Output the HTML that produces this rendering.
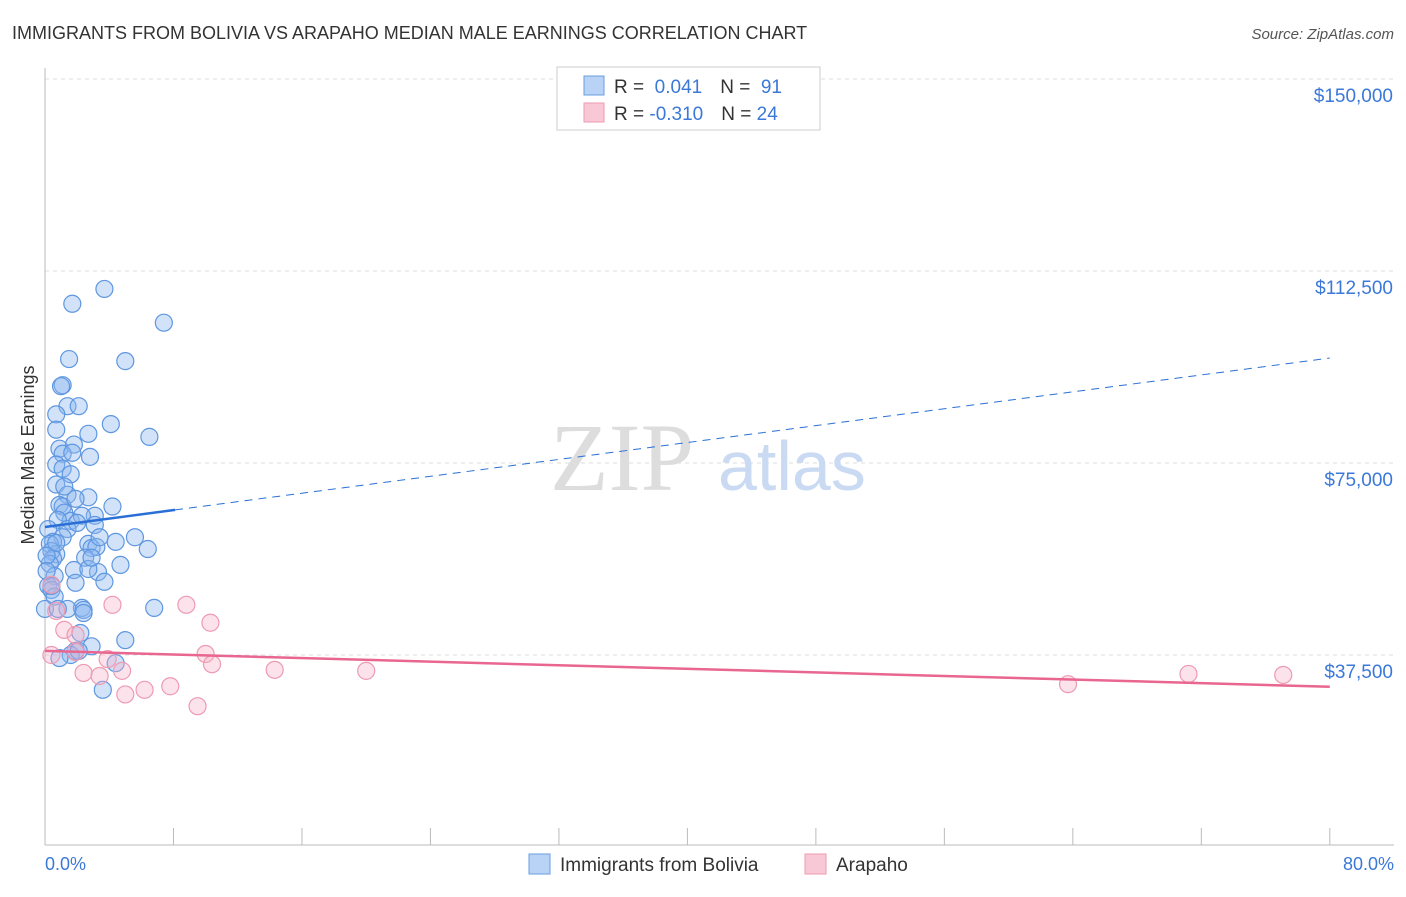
<!DOCTYPE html>
<html><head><meta charset="utf-8"><style>
body{margin:0;background:#fff;font-family:"Liberation Sans",sans-serif;}
</style></head><body>
<svg width="1406" height="892" xmlns="http://www.w3.org/2000/svg" font-family="Liberation Sans, sans-serif">
<text x="12" y="39" font-size="18" fill="#333">IMMIGRANTS FROM BOLIVIA VS ARAPAHO MEDIAN MALE EARNINGS CORRELATION CHART</text>
<text x="1394" y="39" font-size="15" fill="#555" font-style="italic" text-anchor="end">Source: ZipAtlas.com</text>
<g id="grid"></g>
<line x1="45" y1="68" x2="45" y2="845" stroke="#bbb"/>
<line x1="45" y1="845" x2="1394" y2="845" stroke="#bbb"/>
<g id="xticks"></g>
<text x="550" y="490" font-size="96" fill="#ddd" font-family="Liberation Serif, serif">ZIP</text>
<text x="718" y="490" font-size="70" fill="#c9daf2">atlas</text>
<text x="34" y="455" font-size="18" fill="#333" transform="rotate(-90 34 455)" text-anchor="middle">Median Male Earnings</text>
<text x="45" y="870" font-size="18" fill="#3b78d8">0.0%</text>
<text x="1394" y="870" font-size="18" fill="#3b78d8" text-anchor="end">80.0%</text>
<g id="pts"></g>
<g id="trend"></g>
<g>
<rect x="557" y="67" width="263" height="63" fill="#fff" stroke="#ccc"/>
<rect x="584" y="76" width="20" height="19" fill="#b8d3f6" stroke="#6a9de0"/>
<rect x="584" y="103" width="20" height="19" fill="#f9c8d6" stroke="#ee9ab3"/>
<text x="614" y="93" font-size="19" fill="#333">R = <tspan fill="#3b78d8">&#160;0.041</tspan><tspan dx="18">N = </tspan><tspan fill="#3b78d8">&#160;91</tspan></text>
<text x="614" y="120" font-size="19" fill="#333">R = <tspan fill="#3b78d8">-0.310</tspan><tspan dx="18">N = </tspan><tspan fill="#3b78d8">24</tspan></text>
</g>
<g>
<rect x="529" y="854" width="21" height="20" fill="#b8d3f6" stroke="#6a9de0"/>
<text x="560" y="871" font-size="19" fill="#333">Immigrants from Bolivia</text>
<rect x="805" y="854" width="21" height="20" fill="#f9c8d6" stroke="#ee9ab3"/>
<text x="836" y="871" font-size="19" fill="#333">Arapaho</text>
</g>
</svg>
<script>
const yTicks=[37500,75000,112500,150000];
const yTickLabels=["$37,500","$75,000","$112,500","$150,000"];
const xTicks=[0,8,16,24,32,40,48,56,64,72,80];
const blueX=[3.7,1.7,7.4,1.5,5,1.1,1,1.4,2.1,4.1,0.7,6.5,2.7,0.7,1.8,0.9,1.1,2.8,1.7,0.7,1.1,1.6,0.7,2.7,1.4,4.2,0.9,1.1,1.2,3.1,1.6,0.8,2.3,3.1,0.2,1.4,2,1.1,0.5,5.6,4.4,2.7,2.9,3.2,0.3,0.7,6.4,0.4,0.5,2.5,0.3,3.3,1.8,2.7,0.6,1.9,0.2,0.4,2.3,2.4,2.4,6.8,1.4,2.2,5,2.9,1.9,1.6,2.1,4.4,3.6,0.6,0,0.9,0.7,1.2,0.1,0.1,0.4,1.9,3.4,0.8,2.9,4.7,3.7];
const blueY=[109000,106100,102400,95300,94900,90200,90000,86100,86100,82600,84500,80100,80700,81500,78600,77800,76800,76200,77000,74700,73900,72800,70800,68300,68800,66500,66800,66500,65300,64700,63700,63900,64700,62900,62100,62100,63300,60500,59600,60500,59600,59200,58400,58600,59200,57200,58200,57800,56300,56500,55300,53700,54100,54300,52900,51600,51000,50200,46700,46300,45700,46700,46500,41800,40400,39200,38300,37500,38300,35900,30700,48900,46500,36900,59400,70400,56900,53900,51000,68000,60500,46500,56500,55100,51800];
const pinkX=[0.4,0.7,1.2,4.2,8.8,10.3,0.4,1.9,10,10.4,3.9,4.8,2.4,3.4,6.2,7.8,5,9.5,14.3,20,63.7,71.2,77.1,1.9];
const pinkY=[51200,46100,42400,47300,47300,43800,37500,38100,37700,35700,36700,34400,34000,33400,30700,31400,29800,27500,34600,34400,31800,33800,33600,41400];
const blueTrend=[0,80,62500,95500], pinkTrend=[0,80,38300,31300];
const X=p=>45+p*16.06, Y=v=>655-(v-37500)/37500*192;
const NS="http://www.w3.org/2000/svg";
function mk(tag,attrs,parent){const e=document.createElementNS(NS,tag);for(const k in attrs)e.setAttribute(k,attrs[k]);document.getElementById(parent).appendChild(e);return e;}
yTicks.forEach((v,i)=>{
 const l=mk('line',{x1:45,x2:1394,y1:Y(v),y2:Y(v),stroke:'#ddd','stroke-dasharray':'4,4'},'grid');
 
 
 const t=mk('text',{x:1393,y:Y(v)+23,'font-size':19,fill:'#3b78d8','text-anchor':'end'},'grid');
 t.textContent=yTickLabels[i];
 
 
});
xTicks.forEach(p=>{
 const l=mk('line',{x1:X(p),x2:X(p),y1:828,y2:845,stroke:'#bbb'},'xticks');
 
 
});
blueX.forEach((p,i)=>{
 const c=mk('circle',{cx:X(p),cy:Y(blueY[i]),r:8.5,fill:'rgba(140,182,240,0.4)',stroke:'#5e97e0','stroke-width':1.2},'pts');
 
 
});
pinkX.forEach((p,i)=>{
 const c=mk('circle',{cx:X(p),cy:Y(pinkY[i]),r:8.5,fill:'rgba(246,175,198,0.35)',stroke:'#ee9ab3','stroke-width':1.2},'pts');
 
 
});
const by=p=>blueTrend[2]+(blueTrend[3]-blueTrend[2])*(p-blueTrend[0])/(blueTrend[1]-blueTrend[0]);
let l1=mk('line',{x1:X(0),y1:Y(by(0)),x2:X(8.1),y2:Y(by(8.1)),stroke:'#2a6fd6','stroke-width':2.5},'trend');


let l2=mk('line',{x1:X(8.1),y1:Y(by(8.1)),x2:X(80),y2:Y(by(80)),stroke:'#2a6fd6','stroke-width':1,'stroke-dasharray':'8,6'},'trend');


let l3=mk('line',{x1:X(pinkTrend[0]),y1:Y(pinkTrend[2]),x2:X(pinkTrend[1]),y2:Y(pinkTrend[3]),stroke:'#e8668f','stroke-width':2.5},'trend');


</script>
</body></html>
